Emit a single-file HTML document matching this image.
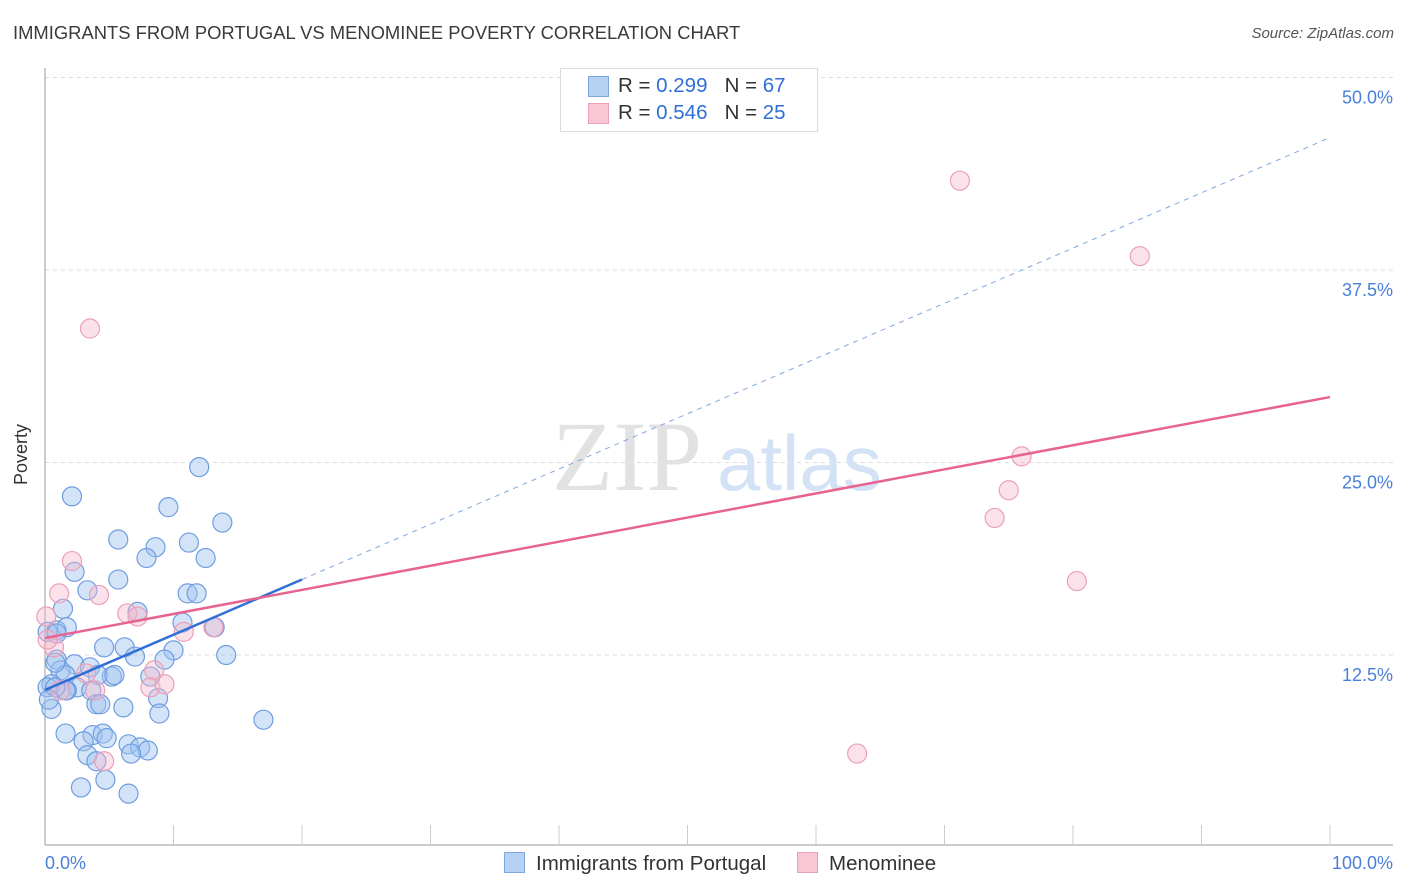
<!DOCTYPE html>
<html><head><meta charset="utf-8"><style>
body{margin:0;width:1406px;height:892px;background:#fff;font-family:"Liberation Sans",sans-serif;overflow:hidden;position:relative}
.t{position:absolute;white-space:nowrap}
</style></head><body>
<div class="t" style="left:13px;top:22px;font-size:18.4px;color:#3a3a3a">IMMIGRANTS FROM PORTUGAL VS MENOMINEE POVERTY CORRELATION CHART</div>
<div class="t" style="right:12px;top:25px;font-size:15px;color:#555;font-style:italic">Source: ZipAtlas.com</div>
<svg id="chart" width="1406" height="892" style="position:absolute;left:0;top:0"></svg>
<script>
const blueX=[12.0,2.1,9.6,13.8,5.7,8.6,11.2,7.9,12.5,5.7,2.3,11.1,11.8,3.3,1.4,7.2,10.7,13.2,0.9,1.7,0.2,6.2,4.6,10.0,7.0,9.3,0.9,2.3,1.2,3.5,1.6,5.2,4.1,8.2,14.1,2.5,0.5,0.2,3.6,1.7,8.8,4.0,4.3,0.5,6.1,8.9,17.0,1.6,3.7,4.5,3.0,4.8,6.5,7.4,8.0,6.7,3.3,4.0,4.7,2.8,6.5,1.6,0.8,5.4,0.3,0.9,0.8];
const blueY=[24.7,22.8,22.1,21.1,20.0,19.5,19.8,18.8,18.8,17.4,17.9,16.5,16.5,16.7,15.5,15.3,14.6,14.3,14.1,14.3,14.0,13.0,13.0,12.8,12.4,12.2,12.2,11.9,11.5,11.7,11.2,11.1,11.2,11.1,12.5,10.4,10.6,10.4,10.2,10.2,9.7,9.3,9.3,9.0,9.1,8.7,8.3,7.4,7.3,7.4,6.9,7.1,6.7,6.5,6.3,6.1,6.0,5.6,4.4,3.9,3.5,10.2,10.4,11.2,9.6,13.9,12.0];
const pinkX=[71.2,85.2,3.5,76.0,75.0,73.9,80.3,63.2,2.1,1.1,4.2,6.4,7.2,10.8,13.1,0.1,0.7,8.5,8.2,9.3,3.9,1.2,4.6,3.2,0.2];
const pinkY=[43.3,38.4,33.7,25.4,23.2,21.4,17.3,6.1,18.6,16.5,16.4,15.2,15.0,14.0,14.3,15.0,13.0,11.5,10.4,10.6,10.2,10.2,5.6,11.3,13.5];
const yTicks=[12.5,25.0,37.5,50.0];
const yTickLabels=["12.5%","25.0%","37.5%","50.0%"];
const blueTrend=[10.23,46.1];
const pinkTrend=[13.6,29.25];
const blueSolidEnd=20;

const NS="http://www.w3.org/2000/svg";
const svg=document.getElementById('chart');
const X=v=>45+v*12.85;
const Y=v=>847.5-v*15.4;
function el(tag,attrs,parent){const e=document.createElementNS(NS,tag);for(const k in attrs)e.setAttribute(k,attrs[k]);(parent||svg).appendChild(e);return e;}

yTicks.forEach((t,i)=>{
  const g=el('line',{x1:45,x2:1393,y1:Y(t),y2:Y(t),stroke:'#ddd','stroke-dasharray':'4,4'});
  
  
  const tx=el('text',{x:1393,y:Y(t)+26,'text-anchor':'end','font-size':18,fill:'#4a7fd8','font-family':'Liberation Sans'});
  tx.textContent=yTickLabels[i];
  
  
});

const wm=el('text',{x:552,y:490,'font-size':100,fill:'#e2e2e2','font-family':'Liberation Serif'});
wm.textContent='ZIP';


const wm2=el('text',{x:717,y:490,'font-size':78,fill:'#d3e2f5','font-family':'Liberation Sans'});
wm2.textContent='atlas';



const ya=el('line',{x1:45,x2:45,y1:68,y2:845,stroke:'#bbb','stroke-width':1.5});


const xa=el('line',{x1:45,x2:1393,y1:845,y2:845,stroke:'#bbb','stroke-width':1.5});


for(let i=1;i<=10;i++){
  const tk=el('line',{x1:X(i*10),x2:X(i*10),y1:825,y2:845,stroke:'#ccc'});
  
  
}

function dots(xs,ys,fill,stroke,name){
  xs.forEach((x,i)=>{
    const c=el('circle',{cx:X(x),cy:Y(ys[i]),r:9.5,fill:fill,stroke:stroke,'stroke-width':1.2});
    
    
  });
}
dots(blueX,blueY,'rgba(160,196,240,0.45)','#6f9de0','point-portugal');
dots(pinkX,pinkY,'rgba(246,182,202,0.4)','#eba0b8','point-menominee');

const bt=(v)=>blueTrend[0]+(blueTrend[1]-blueTrend[0])*v/100;
const l1=el('line',{x1:X(0),y1:Y(bt(0)),x2:X(blueSolidEnd),y2:Y(bt(blueSolidEnd)),stroke:'#2f6fd6','stroke-width':2.5});


const l2=el('line',{x1:X(blueSolidEnd),y1:Y(bt(blueSolidEnd)),x2:X(100),y2:Y(bt(100)),stroke:'#7fa6e0','stroke-width':1,'stroke-dasharray':'5,5'});


const l3=el('line',{x1:X(0),y1:Y(pinkTrend[0]),x2:X(100),y2:Y(pinkTrend[1]),stroke:'#e6648f','stroke-width':2.5});


</script>
<div class="t" style="left:-9px;top:444px;font-size:18px;color:#333;transform:rotate(-90deg)">Poverty</div>
<div class="t" style="left:45px;top:853px;font-size:18px;color:#4a7fd8">0.0%</div>
<div class="t" style="right:13px;top:853px;font-size:18px;color:#4a7fd8">100.0%</div>
<div style="position:absolute;left:560px;top:68px;width:256px;height:62px;border:1px solid #ddd;background:#fff;font-size:20.5px;color:#333">
  <div style="position:absolute;left:27px;top:7px;width:19px;height:19px;background:#b7d1f3;border:1px solid #7ea5dd"></div>
  <div class="t" style="left:57px;top:5px">R = <span style="color:#2f6fd6">0.299</span>&nbsp;&nbsp;&nbsp;N = <span style="color:#2f6fd6">67</span></div>
  <div style="position:absolute;left:27px;top:34px;width:19px;height:19px;background:#f8c6d5;border:1px solid #e9a0b8"></div>
  <div class="t" style="left:57px;top:32px">R = <span style="color:#2f6fd6">0.546</span>&nbsp;&nbsp;&nbsp;N = <span style="color:#2f6fd6">25</span></div>
</div>
<div class="t" style="left:504px;top:852px;font-size:20.5px;color:#333">
  <span style="display:inline-block;width:19px;height:19px;background:#b7d1f3;border:1px solid #7ea5dd;vertical-align:-3px;margin-right:11px"></span>Immigrants from Portugal</div>
<div class="t" style="left:797px;top:852px;font-size:20.5px;color:#333">
  <span style="display:inline-block;width:19px;height:19px;background:#f8c6d5;border:1px solid #e9a0b8;vertical-align:-3px;margin-right:11px"></span>Menominee</div>
</body></html>
